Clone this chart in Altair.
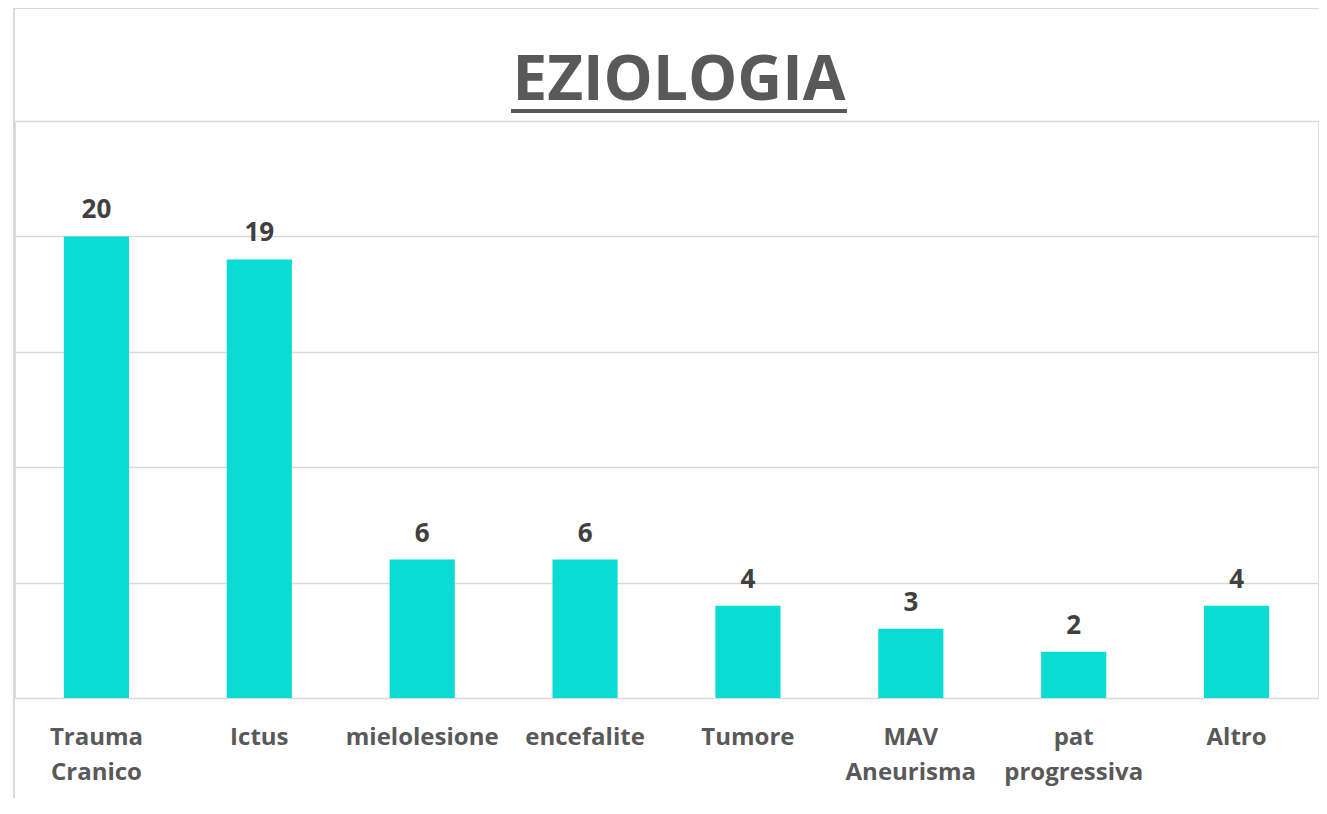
import altair as alt
import pandas as pd

categories = ["Trauma Cranico", "Ictus", "mielolesione", "encefalite", "Tumore",
              "MAV Aneurisma", "pat progressiva", "Altro"]
values = [20, 19, 6, 6, 4, 3, 2, 4]
title_text = ["EZIOLOGIA"]

df = pd.DataFrame({"cat": categories, "val": values})

W, H = 1303, 577
FONT = "Open Sans"

x_enc = alt.X("cat:N", sort=categories,
              scale=alt.Scale(paddingInner=0.6, paddingOuter=0.3),
              axis=alt.Axis(title=None, labelAngle=0, labelFont=FONT, labelFontSize=24,
                            labelFontWeight="bold", labelColor="#595959",
                            labelExpr="split(datum.label, ' ')", labelLineHeight=35,
                            labelPadding=27, labelBaseline="top",
                            domain=False, ticks=False, grid=False))
y_enc = alt.Y("val:Q", scale=alt.Scale(domain=[0, 25], nice=False),
              axis=alt.Axis(title=None, labels=False, ticks=False, domain=False,
                            values=[0, 5, 10, 15, 20, 25], grid=True,
                            gridColor="#D9D9D9", gridWidth=1.5))

base = alt.Chart(df)
bars = base.mark_bar(color="#0ADCD4").encode(x=x_enc, y=y_enc)
labels = base.mark_text(font=FONT, fontSize=26, fontWeight="bold", color="#404040",
                        baseline="alphabetic", dy=-18).encode(
    x=alt.X("cat:N", sort=categories), y="val:Q", text="val:Q")

tdf = pd.DataFrame({"t": title_text})
title = alt.Chart(tdf).mark_text(font=FONT, fontSize=62, fontWeight="bold",
                                 color="#595959", baseline="alphabetic",
                                 align="center").encode(
    text="t:N", x=alt.value(664), y=alt.value(-21))
underline = alt.Chart(tdf).mark_rule(color="#595959", strokeWidth=4).encode(
    x=alt.value(496), x2=alt.value(832), y=alt.value(-10))
frame_left = alt.Chart(tdf).mark_rule(color="#D9D9D9", strokeWidth=2).encode(
    x=alt.value(-1), y=alt.value(-113), y2=alt.value(700))
frame_top = alt.Chart(tdf).mark_rule(color="#D9D9D9", strokeWidth=2).encode(
    x=alt.value(-1), x2=alt.value(1320), y=alt.value(-113))

chart = alt.layer(bars, labels, title, underline, frame_left, frame_top).properties(
    width=W, height=H,
    autosize=alt.AutoSizeParams(type="none"),
    padding={"left": 7, "top": 113, "right": 1, "bottom": 100},
).configure_view(stroke=None).configure(background="white")

chart.save("out.html", embed_options={"renderer": "svg", "actions": False})
